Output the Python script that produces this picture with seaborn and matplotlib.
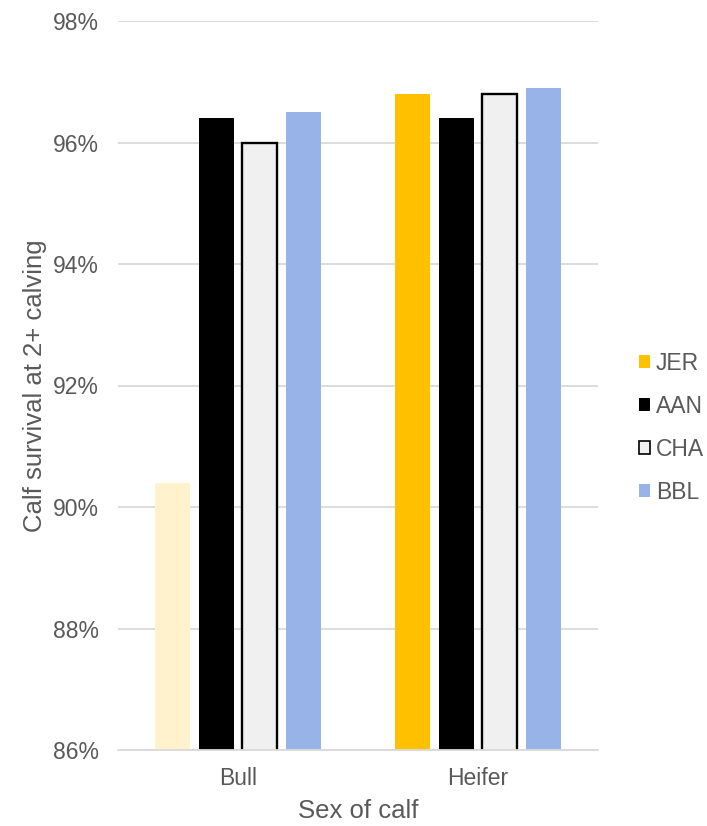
import matplotlib
matplotlib.use("Agg")
import matplotlib.pyplot as plt
import seaborn as sns
import pandas as pd
from matplotlib.patches import Patch
from matplotlib.ticker import FuncFormatter

sexes = ["Bull", "Heifer"]
breeds = ["JER", "AAN", "CHA", "BBL"]
bull_survival = [90.4, 96.4, 96.0, 96.5]
heifer_survival = [96.8, 96.4, 96.8, 96.9]
y_ticks = [86, 88, 90, 92, 94, 96, 98]

breed_colors = {"JER": "#FFC000", "AAN": "#000000", "CHA": "#F0F0F0", "BBL": "#97B3E8"}
faded_jer = "#FFF2CC"
text_gray = "#595959"
grid_gray = "#D9D9D9"

df = pd.DataFrame({
    "Sex": [s for s in sexes for _ in breeds],
    "Breed": breeds * len(sexes),
    "Survival": bull_survival + heifer_survival,
})

sns.set_theme(style="white")
plt.rcParams["font.family"] = ["Liberation Sans", "DejaVu Sans"]

fig = plt.figure(figsize=(7.07, 8.26), dpi=100)
ax = fig.add_axes([118 / 707, 1 - 750 / 826, 480 / 707, 729 / 826])

sns.barplot(data=df, x="Sex", y="Survival", hue="Breed", order=sexes,
            hue_order=breeds, palette=breed_colors, width=0.73, gap=0.2,
            saturation=1, legend=False, ax=ax, errorbar=None, zorder=3)

# bars come in hue order: JER(Bull, Heifer), AAN(...), CHA(...), BBL(...)
for i, bar in enumerate(ax.patches):
    breed = breeds[i // len(sexes)]
    sex = sexes[i % len(sexes)]
    bar.set_edgecolor("none")
    if breed == "CHA":
        bar.set_edgecolor("#000000")
        bar.set_linewidth(1.7)
    if breed == "JER" and sex == "Bull":
        bar.set_facecolor(faded_jer)

ax.set_ylim(86, 98)
ax.set_xlim(-0.5, 1.5)
ax.set_yticks(y_ticks)
ax.yaxis.set_major_formatter(FuncFormatter(lambda v, _: f"{v:.0f}%"))
ax.grid(axis="y", color=grid_gray, linewidth=1.3, zorder=0)
ax.set_axisbelow(True)
for side in ["top", "right", "left"]:
    ax.spines[side].set_visible(False)
ax.spines["bottom"].set_color(grid_gray)
ax.spines["bottom"].set_linewidth(1.3)
ax.spines["bottom"].set_zorder(4)
ax.tick_params(axis="both", length=0, labelsize=16.5, colors=text_gray)
ax.tick_params(axis="y", pad=14)
ax.tick_params(axis="x", pad=12)

ax.set_xlabel("Sex of calf", fontsize=18.5, color=text_gray, labelpad=7)
ax.set_ylabel("Calf survival at 2+ calving", fontsize=18.5, color=text_gray, labelpad=4)

handles = [Patch(facecolor=breed_colors[b],
                 edgecolor="#000000" if b == "CHA" else breed_colors[b],
                 linewidth=1.2 if b == "CHA" else 0)
           for b in breeds]
fig.legend(handles, breeds, loc="center left", bbox_to_anchor=(639 / 707, 1 - 428 / 826),
           frameon=False, fontsize=16.5, labelcolor=text_gray, handlelength=0.5,
           handleheight=0.5, handletextpad=0.24, labelspacing=0.87,
           borderaxespad=0, borderpad=0)

fig.savefig("out.png", dpi=100)
